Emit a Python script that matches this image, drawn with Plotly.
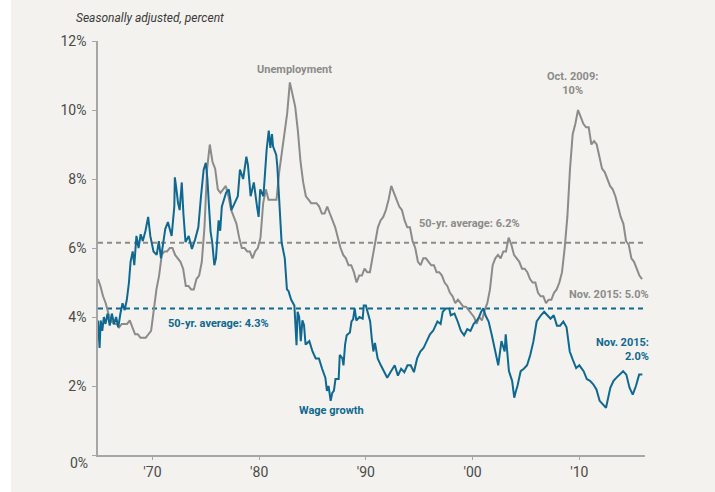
import plotly.graph_objects as go

# ---------------- data ----------------
# Unemployment rate, quarterly (1965 Q1 .. 2015 Q4), percent
unemp_start_year = 1964.9
unemp_start_value = 5.1
unemp_quarterly = [
    4.9, 4.6, 4.4, 4.1,   # 1965
    3.9, 3.8, 3.8, 3.7,   # 1966
    3.8, 3.8, 3.8, 3.9,   # 1967
    3.7, 3.5, 3.5, 3.4,   # 1968
    3.4, 3.4, 3.5, 3.6,   # 1969
    4.2, 4.8, 5.2, 5.8,   # 1970
    5.9, 5.9, 6.0, 6.0,   # 1971
    5.8, 5.7, 5.6, 5.4,   # 1972
    4.9, 4.9, 4.8, 4.8,   # 1973
    5.1, 5.2, 5.6, 6.6,   # 1974
    8.3, 9.0, 8.5, 8.3,   # 1975
    7.7, 7.6, 7.7, 7.8,   # 1976
    7.5, 7.1, 6.9, 6.7,   # 1977
    6.3, 6.0, 6.0, 5.9,   # 1978
    5.9, 5.7, 5.9, 6.0,   # 1979
    6.3, 7.3, 7.7, 7.4,   # 1980
    7.4, 7.4, 7.4, 8.2,   # 1981
    8.8, 9.4, 9.9, 10.8,  # 1982
    10.4, 10.1, 9.4, 8.5, # 1983
    7.9, 7.5, 7.4, 7.3,   # 1984
    7.3, 7.3, 7.2, 7.0,   # 1985
    7.0, 7.2, 7.0, 6.8,   # 1986
    6.6, 6.3, 6.0, 5.8,   # 1987
    5.7, 5.5, 5.5, 5.3,   # 1988
    5.0, 5.2, 5.2, 5.4,   # 1989
    5.3, 5.3, 5.7, 6.1,   # 1990
    6.6, 6.8, 6.9, 7.1,   # 1991
    7.4, 7.8, 7.6, 7.4,   # 1992
    7.2, 7.1, 6.8, 6.6,   # 1993
    6.6, 6.2, 6.0, 5.6,   # 1994
    5.5, 5.7, 5.7, 5.6,   # 1995
    5.5, 5.5, 5.3, 5.3,   # 1996
    5.2, 5.0, 4.9, 4.7,   # 1997
    4.6, 4.4, 4.5, 4.4,   # 1998
    4.3, 4.3, 4.2, 4.1,   # 1999
    4.0, 3.8, 4.0, 3.9,   # 2000
    4.2, 4.4, 4.8, 5.5,   # 2001
    5.7, 5.8, 5.7, 5.9,   # 2002
    5.9, 6.3, 6.1, 5.8,   # 2003
    5.7, 5.6, 5.4, 5.4,   # 2004
    5.3, 5.1, 5.0, 5.0,   # 2005
    4.7, 4.6, 4.6, 4.4,   # 2006
    4.5, 4.5, 4.7, 4.8,   # 2007
    5.0, 5.3, 6.0, 6.9,   # 2008
    8.3, 9.3, 9.6, 10.0,  # 2009
    9.8, 9.6, 9.5, 9.5,   # 2010
    9.0, 9.1, 9.0, 8.6,   # 2011
    8.3, 8.2, 8.0, 7.8,   # 2012
    7.7, 7.5, 7.2, 6.9,   # 2013
    6.7, 6.2, 6.1, 5.7,   # 2014
    5.6, 5.4, 5.2, 5.1,   # 2015
]

# Wage growth (year-over-year, percent)
wage_years = [
    1964.9, 1965.05, 1965.15, 1965.3, 1965.45, 1965.6, 1965.8, 1966.0, 1966.2, 1966.4,
    1966.6, 1966.8, 1967.0, 1967.2, 1967.4, 1967.6, 1967.8, 1967.95, 1968.15, 1968.3,
    1968.5, 1968.7, 1968.9, 1969.1, 1969.35, 1969.6, 1969.8, 1970.1, 1970.4, 1970.6,
    1970.8, 1971.0, 1971.2, 1971.45, 1971.8, 1972.05, 1972.1, 1972.25, 1972.4, 1972.55,
    1972.75, 1972.9, 1973.1, 1973.4, 1973.7, 1974.0, 1974.3, 1974.55, 1974.8, 1975.0,
    1975.15, 1975.3, 1975.45, 1975.6, 1975.8, 1975.95, 1976.2, 1976.35, 1976.5, 1976.9,
    1977.15, 1977.3, 1977.4, 1977.7, 1978.0, 1978.2, 1978.5, 1978.8, 1978.95, 1979.2,
    1979.5, 1979.8, 1979.95, 1980.1, 1980.4, 1980.7, 1980.9, 1981.05, 1981.2, 1981.3,
    1981.6, 1981.7, 1981.9, 1982.1, 1982.4, 1982.6, 1982.75, 1983.0, 1983.3, 1983.5,
    1983.6, 1983.75, 1983.9, 1984.05, 1984.2, 1984.35, 1984.7, 1985.0, 1985.3, 1985.6,
    1985.9, 1986.2, 1986.35, 1986.5, 1986.7, 1986.85, 1987.0, 1987.15, 1987.45, 1987.55,
    1987.8, 1987.9, 1988.05, 1988.2, 1988.5, 1988.65, 1988.8, 1988.95, 1989.1, 1989.4,
    1989.7, 1989.8, 1990.0, 1990.15, 1990.4, 1990.55, 1990.7, 1990.85, 1991.1, 1991.4,
    1991.7, 1992.0, 1992.3, 1992.7, 1993.0, 1993.3, 1993.6, 1993.9, 1994.2, 1994.5,
    1994.8, 1995.1, 1995.4, 1995.7, 1996.0, 1996.3, 1996.7, 1997.0, 1997.2, 1997.5,
    1997.8, 1997.95, 1998.3, 1998.6, 1998.9, 1999.2, 1999.5, 1999.8, 2000.1, 2000.4,
    2000.6, 2000.8, 2001.0, 2001.2, 2001.5, 2001.8, 2002.1, 2002.4, 2002.7, 2003.0,
    2003.1, 2003.25, 2003.4, 2003.7, 2003.9, 2004.05, 2004.2, 2004.5, 2004.8, 2005.1,
    2005.4, 2005.7, 2006.0, 2006.4, 2006.7, 2007.0, 2007.3, 2007.6, 2007.9, 2008.2,
    2008.5, 2008.8, 2009.1, 2009.4, 2009.7, 2010.0, 2010.4, 2010.7, 2011.0, 2011.3,
    2011.6, 2011.9, 2012.2, 2012.5, 2012.9, 2013.2, 2013.5, 2013.8, 2014.1, 2014.4,
    2014.7, 2015.0, 2015.3, 2015.6, 2015.9,
]
wage_values = [
    3.9, 3.1, 3.9, 3.6, 4.0, 3.8, 4.1, 3.75, 4.1, 3.8,
    4.0, 3.7, 4.1, 4.4, 4.2, 4.5, 5.0, 5.6, 5.9, 5.5,
    6.35, 6.0, 6.4, 6.2, 6.5, 6.9, 6.35, 5.9, 5.8, 6.2,
    5.7, 6.2, 6.55, 6.75, 6.35, 7.2, 8.05, 7.7, 7.3, 7.1,
    7.9, 7.0, 6.17, 6.35, 5.97, 6.25, 6.6, 7.5, 8.27, 8.47,
    8.0, 7.2, 6.47, 6.17, 5.5, 5.7, 6.8, 6.5, 7.2, 7.6,
    7.7, 7.4, 7.1, 7.3, 7.5, 8.27, 8.0, 8.65, 8.4, 7.5,
    7.9, 7.2, 6.9, 7.7, 7.5, 8.85, 9.4, 8.9, 9.3, 8.95,
    8.7, 8.37, 7.3, 6.17, 5.7, 4.8, 4.75, 4.5, 4.33, 3.18,
    4.15, 4.0, 3.3, 3.9, 3.77, 3.2, 3.3, 3.0, 2.8, 2.8,
    2.5, 2.24, 1.86, 2.0, 1.57, 1.8, 1.86, 2.2, 2.2, 2.9,
    2.8, 2.6, 3.2, 3.47, 3.55, 3.87, 3.93, 4.25, 3.9, 4.0,
    3.95, 4.33, 4.33, 4.15, 3.87, 3.38, 3.0, 3.25, 2.8, 2.6,
    2.4, 2.24, 2.4, 2.6, 2.3, 2.5, 2.4, 2.6, 2.6, 2.4,
    2.8, 3.0, 3.1, 3.3, 3.5, 3.6, 3.87, 3.8, 4.15, 4.25,
    4.25, 4.05, 4.1, 3.87, 3.6, 3.47, 3.65, 3.6, 3.8, 3.9,
    4.0, 4.15, 4.25, 4.05, 3.87, 3.47, 3.0, 2.6, 3.3, 3.0,
    3.5, 3.0, 2.43, 2.15, 1.66, 1.85, 2.0, 2.43, 2.5, 2.6,
    2.9, 3.3, 3.87, 4.05, 4.15, 4.05, 3.95, 4.05, 3.75, 3.75,
    3.87, 3.7, 3.0, 2.75, 2.52, 2.6, 2.43, 2.2, 2.15, 2.05,
    1.9, 1.57, 1.47, 1.37, 1.95, 2.15, 2.25, 2.33, 2.43, 2.33,
    1.95, 1.75, 2.0, 2.33, 2.33,
]

unemp_average = 6.15
wage_average = 4.25

x_tick_years = [1970, 1980, 1990, 2000, 2010]
x_tick_labels = ["'70", "'80", "'90", "'00", "'10"]
y_tick_values = [0, 2, 4, 6, 8, 10, 12]
y_tick_labels = ["", "2%", "4%", "6%", "8%", "10%", "12%"]

# ---------------- styling ----------------
BG = "#f3f2ee"
GREY = "#8b8b8b"
BLUE = "#0e6891"
AXIS = "#a6a6a6"
TICKCOL = "#4a4a4a"
TICKFONT = "Liberation Sans Narrow, Roboto, sans-serif"
LABELFONT = "Roboto, Liberation Sans, sans-serif"

unemp_x = [unemp_start_year] + [1965 + (i + 0.5) / 4 for i in range(len(unemp_quarterly))]
unemp_y = [unemp_start_value] + unemp_quarterly

fig = go.Figure()
fig.add_trace(go.Scatter(x=unemp_x, y=unemp_y, mode="lines",
                         line=dict(color=GREY, width=2), showlegend=False,
                         name="Unemployment"))
fig.add_trace(go.Scatter(x=wage_years, y=wage_values, mode="lines",
                         line=dict(color=BLUE, width=2), showlegend=False,
                         name="Wage growth"))

# 50-yr averages
fig.add_shape(type="line", xref="paper", x0=0, x1=1, yref="y",
              y0=unemp_average, y1=unemp_average,
              line=dict(color=GREY, width=2, dash="5px,4px"), layer="below")
fig.add_shape(type="line", xref="paper", x0=0, x1=1, yref="y",
              y0=wage_average, y1=wage_average,
              line=dict(color=BLUE, width=2, dash="5px,4px"), layer="below")

# white strip on the far left
fig.add_shape(type="rect", xref="paper", yref="paper", x0=-0.2, x1=-0.159,
              y0=-0.2, y1=1.2, fillcolor="white", line=dict(width=0), layer="above")

def ann(text, x, y, color, xref="x", yref="y", xanchor="center", align="center",
        size=11, bold=True, italic=False, family=LABELFONT):
    t = f"<b>{text}</b>" if bold else text
    if italic:
        t = f"<i>{t}</i>"
    fig.add_annotation(text=t, x=x, y=y, xref=xref, yref=yref, showarrow=False,
                       xanchor=xanchor, yanchor="middle", align=align,
                       font=dict(color=color, size=size, family=family))

ann("Seasonally adjusted, percent", -0.044, 1.055, "#3a3a3a", xref="paper",
    yref="paper", xanchor="left", bold=False, italic=True, size=12)
ann("Unemployment", 1983.27, 11.17, GREY)
ann("Oct. 2009:<br>10%", 2009.32, 10.76, GREY)
ann("50-yr. average: 6.2%", 1994.8, 6.7, GREY, xanchor="left")
ann("Nov. 2015: 5.0%", 1.011, 0.3885, GREY, xref="paper", yref="paper",
    xanchor="right")
ann("50-yr. average: 4.3%", 1971.27, 3.8, BLUE, xanchor="left")
ann("Wage growth", 1986.74, 1.3, BLUE)
ann("Nov. 2015:<br>2.0%", 1.011, 0.254, BLUE, xref="paper", yref="paper",
    xanchor="right", align="right")
ann("0%", -0.0146, -0.019, TICKCOL, xref="paper", yref="paper",
    xanchor="right", bold=False, size=14, family=TICKFONT)

fig.update_layout(
    width=715, height=492,
    margin=dict(l=98, r=70, t=41, b=34, pad=0),
    paper_bgcolor=BG, plot_bgcolor=BG,
    xaxis=dict(range=[1964.9, 2016.15], showgrid=False, zeroline=False,
               showline=True, linecolor=AXIS, linewidth=1.5,
               tickmode="array", tickvals=x_tick_years, ticktext=x_tick_labels,
               ticks="outside", ticklen=3, tickcolor=AXIS, tickwidth=1,
               tickfont=dict(family=TICKFONT, size=14, color=TICKCOL)),
    yaxis=dict(range=[0, 12], showgrid=False, zeroline=False,
               showline=True, linecolor=AXIS, linewidth=1.5,
               tickmode="array", tickvals=y_tick_values, ticktext=y_tick_labels,
               ticks="outside", ticklen=4, tickcolor=AXIS, tickwidth=1,
               ticklabelstandoff=3,
               tickfont=dict(family=TICKFONT, size=14, color=TICKCOL)),
)

fig.write_html("out.html", config={"displayModeBar": False},
               post_script="document.body.style.margin='0';document.body.style.overflow='hidden';")
